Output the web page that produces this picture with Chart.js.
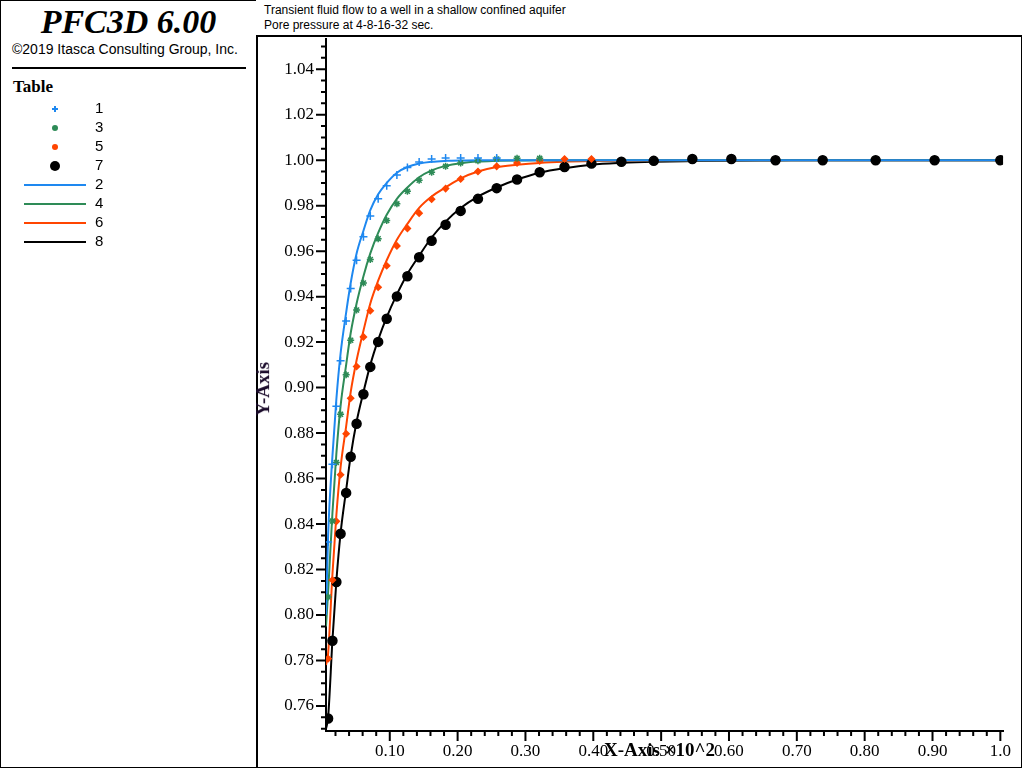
<!DOCTYPE html>
<html><head><meta charset="utf-8">
<script src="https://cdn.jsdelivr.net/npm/chart.js@4"></script>
<style>
body{margin:0;width:1024px;height:768px;position:relative;background:#fff;overflow:hidden;font-family:"Liberation Sans",Arial,sans-serif}
#left{position:absolute;left:0;top:0;width:255px;height:766px;border:1px solid #000;border-right:2px solid #000}
#frame{position:absolute;left:256px;top:0;width:765px;height:766px;border:1px solid #000;border-left:none}
#tbox{position:absolute;left:256px;top:0;width:766px;height:37px;border-bottom:2px solid #000;font-size:12px;line-height:15px;padding:3px 0 0 8px;box-sizing:border-box;background:#fff;z-index:2}
#wrap{position:absolute;left:257px;top:17px;width:764px;height:749px;z-index:1}
.ttl{position:absolute;font-family:"Liberation Serif",serif;font-weight:bold;font-size:19px;z-index:3}
</style></head><body>
<div id="left">
<div style="position:absolute;left:0;width:255px;top:2px;text-align:center;font-family:'Liberation Serif',serif;font-style:italic;font-weight:bold;font-size:34px;line-height:38px">PFC3D 6.00</div>
<div style="position:absolute;left:11px;top:40px;font-size:14px">©2019 Itasca Consulting Group, Inc.</div>
<div style="position:absolute;left:11px;top:66px;width:234px;height:2px;background:#000"></div>
<div style="position:absolute;left:12px;top:76px;font-family:'Liberation Serif',serif;font-weight:bold;font-size:17px">Table</div>
<canvas id="leg" width="200" height="160" style="position:absolute;left:0;top:96px"></canvas>
</div>
<div id="frame"></div>
<div id="tbox">Transient fluid flow to a well in a shallow confined aquifer<br>Pore pressure at 4-8-16-32 sec.</div>
<div id="wrap"><canvas id="c"></canvas></div>
<div class="ttl" style="left:604px;top:739px">X-Axis ×10^2</div>
<div class="ttl" style="left:236px;top:378px;transform:rotate(-90deg);color:#1a0a2a">Y-Axis</div>
<script>
const xGrid=[0.0091,0.0155,0.0213,0.0275,0.0357,0.0424,0.0511,0.0612,0.0713,0.0829,0.0955,0.1105,0.126,0.1433,0.1617,0.1823,0.2045,0.23,0.2576,0.2876,0.321,0.3576,0.3973,0.4414,0.4891,0.546,0.6035,0.6686,0.7381,0.8162,0.9031,1.0];
const s1=[0.8321,0.8663,0.8918,0.9118,0.9293,0.9436,0.9560,0.9663,0.9755,0.9830,0.9888,0.9935,0.9968,0.9992,1.0005,1.001,1.001,1.001,1.001];
const s3=[0.8079,0.8413,0.8671,0.8883,0.9056,0.9208,0.9341,0.9460,0.9563,0.9655,0.9735,0.9808,0.9863,0.9912,0.9947,0.9973,0.9988,0.9997,1.0005,1.0008,1.0008];
const s5=[0.7808,0.8154,0.8412,0.8617,0.8797,0.8953,0.9093,0.9223,0.9338,0.9441,0.9536,0.9623,0.9700,0.9767,0.9828,0.9875,0.9917,0.9950,0.9973,0.9988,0.9997,1.0005,1.0005];
const s7=[0.7545,0.7887,0.8145,0.8357,0.8537,0.8696,0.8841,0.8971,0.9091,0.9201,0.9303,0.9401,0.9490,0.9573,0.9646,0.9716,0.9777,0.9830,0.9877,0.9915,0.9947,0.9970,0.9985,0.9993,0.9997,1.0005,1.0005,1.0,1.0,1.0,1.0,1.0];
const lineX=[0.006,0.0091,0.0155,0.0213,0.0275,0.0357,0.0424,0.0511,0.0612,0.0713,0.0829,0.0955,0.1105,0.126,0.1433,0.1617,0.1823,0.2045,0.23,0.2576,0.2876,0.321,0.3576,0.3973,0.4414,0.4891,0.546,0.6035,0.6686,0.7381,0.8162,0.9031,1.0];
const l2=[0.80,0.835,0.870,0.895,0.915,0.933,0.946,0.959,0.969,0.978,0.985,0.990,0.9945,0.997,0.9985,0.9993,0.9997,0.9999,1,1,1,1,1,1,1,1,1,1,1,1,1,1,1];
const l4=[0.795,0.810,0.845,0.871,0.892,0.910,0.924,0.937,0.949,0.959,0.968,0.976,0.983,0.988,0.9925,0.9955,0.9975,0.9987,0.9994,0.9997,0.9999,1,1,1,1,1,1,1,1,1,1,1,1];
const l6=[0.778,0.783,0.818,0.844,0.865,0.883,0.898,0.912,0.925,0.937,0.947,0.956,0.965,0.972,0.979,0.984,0.988,0.992,0.995,0.997,0.998,0.9988,0.9993,0.9996,0.9998,0.9999,1,1,1,1,1,1,1];
const l8=[0.750,0.755,0.789,0.815,0.836,0.855,0.870,0.885,0.898,0.910,0.921,0.931,0.941,0.950,0.958,0.966,0.973,0.979,0.984,0.988,0.9915,0.9945,0.9965,0.998,0.9988,0.9993,0.9996,0.9998,0.9999,1,1,1,1];
const xTicks=[0.1,0.2,0.3,0.4,0.5,0.6,0.7,0.8,0.9,1.0];
const yTicks=[0.76,0.78,0.80,0.82,0.84,0.86,0.88,0.90,0.92,0.94,0.96,0.98,1.00,1.02,1.04];
const C={b:'#1e88f0',g:'#2e8b57',r:'#ff4500',k:'#000'};
const pts=(a)=>a.map((y,i)=>({x:xGrid[i],y}));
const lin=(a)=>a.map((y,i)=>({x:lineX[i],y}));
function sc(c,st,r){return {data:null,showLine:false,pointStyle:st,pointRadius:r,pointBorderColor:c,pointBackgroundColor:c,pointBorderWidth:1.5};}
function ln(a,c){return {data:lin(a),showLine:true,borderColor:c,borderWidth:2,pointRadius:0,tension:0.3,cubicInterpolationMode:'monotone'};}
const ds=[
 Object.assign(sc(C.b,'cross',4),{data:pts(s1)}),
 Object.assign(sc(C.g,'star',3.5),{data:pts(s3)}),
 Object.assign(sc(C.r,'rectRot',3),{data:pts(s5)}),
 Object.assign(sc(C.k,'circle',4.5),{data:pts(s7)}),
 ln(l2,C.b),ln(l4,C.g),ln(l6,C.r),ln(l8,C.k)
];
const minor={id:'minor',afterDraw(ch){const c=ch.ctx,x=ch.scales.x,y=ch.scales.y,a=ch.chartArea;c.save();c.strokeStyle='#000';c.lineWidth=2;c.beginPath();
 for(let v=0.745;v<=1.055;v+=0.005){const p=y.getPixelForValue(v);if(p<a.top||p>a.bottom)continue;const maj=Math.abs(v*50-Math.round(v*50))<1e-6;c.moveTo(a.left,p);c.lineTo(a.left-(maj?10:5),p);}
 for(let v=0.02;v<=1.0001;v+=0.02){const p=x.getPixelForValue(v);const maj=Math.abs(v*10-Math.round(v*10))<1e-6;c.moveTo(p,a.bottom);c.lineTo(p,a.bottom+(maj?10:5));}
 c.stroke();c.restore();}};
Chart.defaults.font.family='"Liberation Serif",serif';
new Chart(document.getElementById('c'),{type:'scatter',data:{datasets:ds},plugins:[minor],
options:{responsive:true,maintainAspectRatio:false,animation:false,layout:{padding:{top:22,right:6,bottom:0,left:0}},
plugins:{legend:{display:false},tooltip:{enabled:false}},
scales:{
 x:{type:'linear',min:0.006,max:1.004,grid:{display:false,drawTicks:false},border:{color:'#000',width:2},
  afterBuildTicks:s=>{s.ticks=xTicks.map(v=>({value:v}));},
  afterFit:s=>{s.height=35;},
  ticks:{color:'#000',font:{size:17},padding:10,maxRotation:0,callback:v=>v===1?'1.0':v.toFixed(2)}},
 y:{type:'linear',min:0.749,max:1.0532,grid:{display:false,drawTicks:false},border:{color:'#000',width:2},
  afterBuildTicks:s=>{s.ticks=yTicks.map(v=>({value:v}));},
  afterFit:s=>{s.width=69;},
  ticks:{color:'#000',font:{size:17},padding:12,callback:v=>v.toFixed(2)}}
}}});
const lg=document.getElementById('leg').getContext('2d');
lg.font='15px "Liberation Sans",Arial';lg.fillStyle='#000';lg.textBaseline='middle';
const items=[['1',C.b,'+'],['3',C.g,'*'],['5',C.r,'d'],['7',C.k,'o'],['2',C.b,'l'],['4',C.g,'l'],['6',C.r,'l'],['8',C.k,'l']];
items.forEach((it,i)=>{const y=12+i*19;lg.fillStyle='#000';lg.fillText(it[0],94,y);lg.strokeStyle=it[1];lg.fillStyle=it[1];lg.lineWidth=2;lg.beginPath();
 if(it[2]==='l'){lg.moveTo(23,y);lg.lineTo(85,y);lg.stroke();}
 else if(it[2]==='o'){lg.arc(54,y,5,0,7);lg.fill();}
 else if(it[2]==='+'){lg.moveTo(51,y);lg.lineTo(57,y);lg.moveTo(54,y-3);lg.lineTo(54,y+3);lg.stroke();}
 else {lg.arc(54,y,3,0,7);lg.fill();}});
</script></body></html>
